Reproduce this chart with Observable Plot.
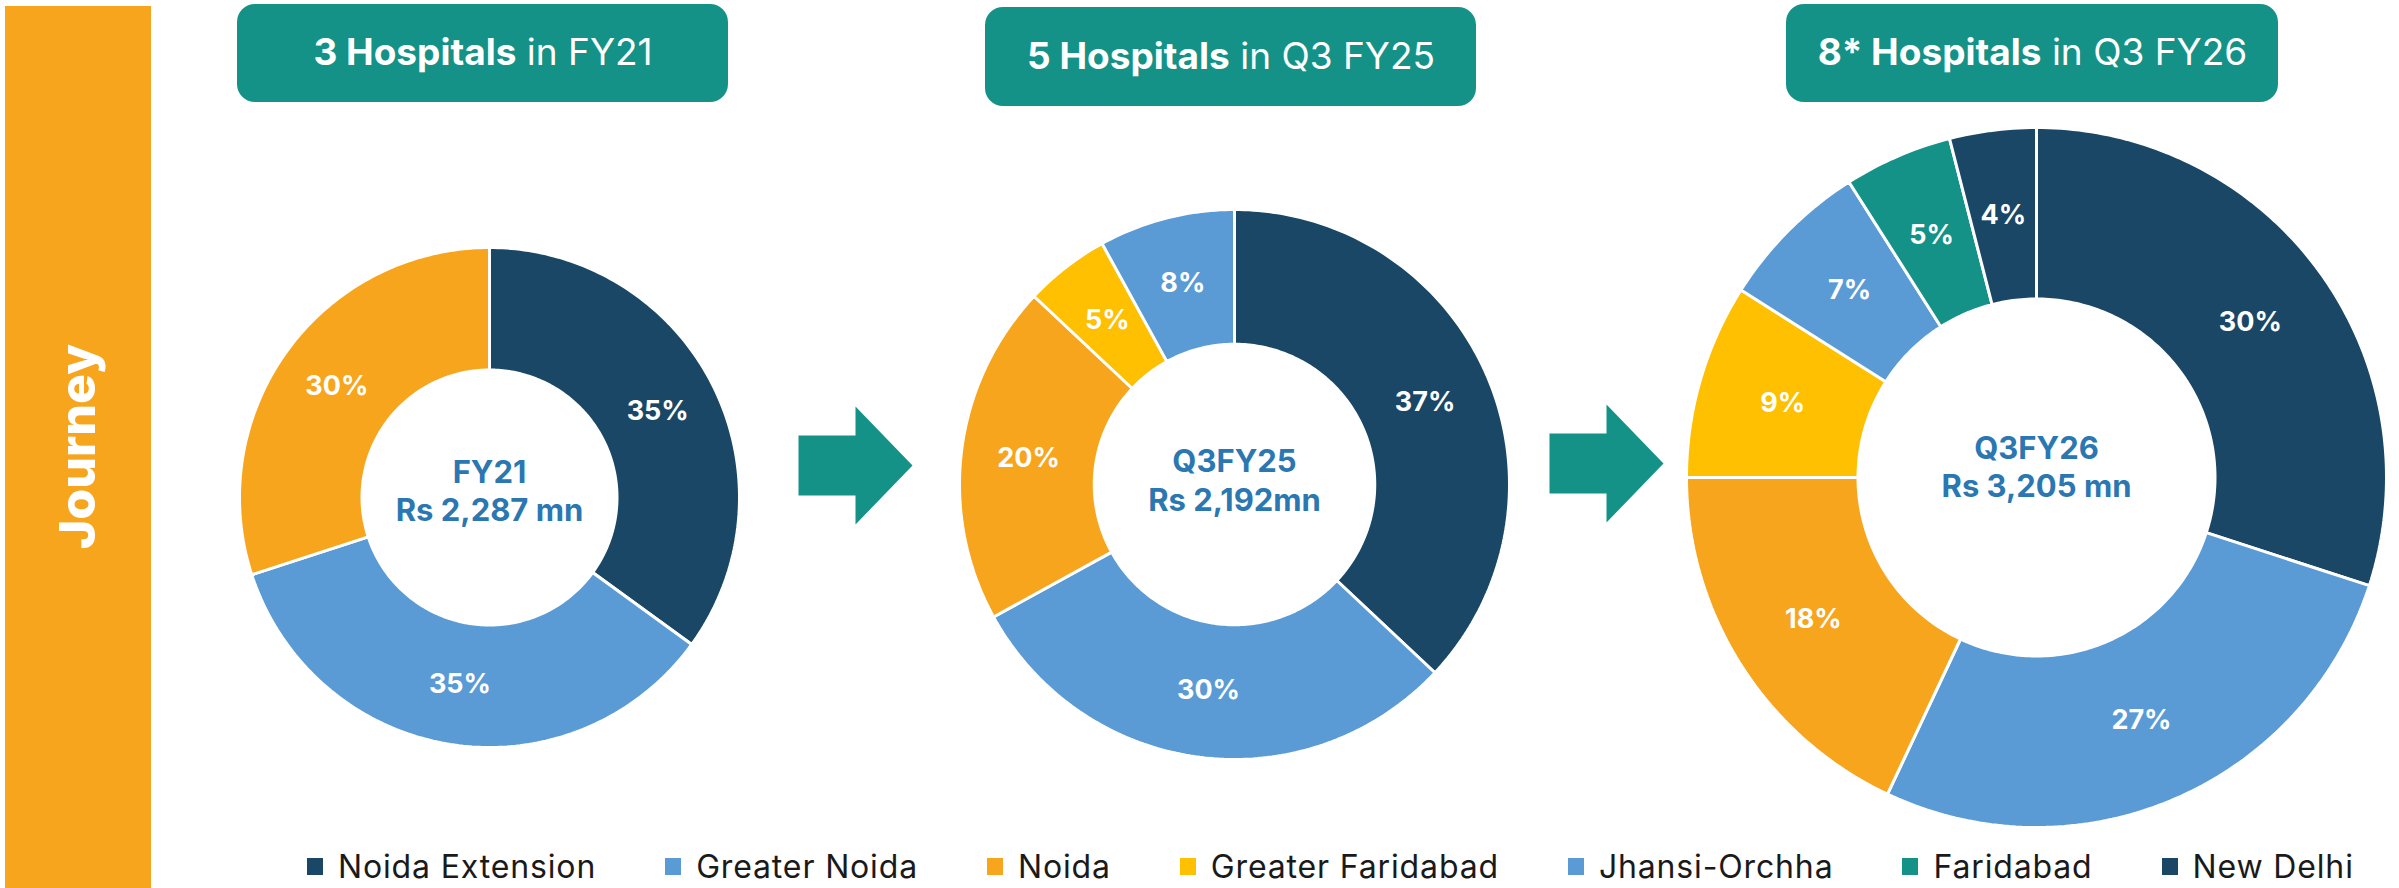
<!DOCTYPE html>
<html>
<head>
<meta charset="utf-8">
<script src="https://cdn.jsdelivr.net/npm/d3@7"></script>
<script src="https://cdn.jsdelivr.net/npm/@observablehq/plot@0.6"></script>
<style>
  body { margin: 0; background: #fff; font-family: Inter, "Open Sans", sans-serif; }
  #wrap { position: relative; width: 2399px; height: 888px; overflow: hidden; background: #fff; }
  #legend { position: relative; height: 43px; display: flex; align-items: center; padding-left: 307px; box-sizing: border-box; }
  #legend .bar { position: absolute; left: 5px; top: 0; width: 146px; height: 43px; background: #f7a51c; }
  #legend .item { display: flex; align-items: center; margin-right: 69px; font-size: 32px; letter-spacing: 0.85px; color: #1a1a1a; white-space: nowrap; }
  #legend .sw { width: 16px; height: 17px; margin-right: 15px; }
</style>
</head>
<body>
<div id="wrap"><div id="chart"></div><div id="legend"><div class="bar"></div></div></div>
<script>
// ---------- data ----------
const regions = ["Noida Extension", "Greater Noida", "Noida", "Greater Faridabad", "Jhansi-Orchha", "Faridabad", "New Delhi"];
const regionColors = ["#1a4766", "#5b9bd5", "#f7a51c", "#fec000", "#5b9bd5", "#149287", "#1a4766"];
const periods = ["FY21", "Q3FY25", "Q3FY26"];
const revenueLabels = ["Rs 2,287 mn", "Rs 2,192mn", "Rs 3,205 mn"];
const headerBold = ["3 Hospitals", "5 Hospitals", "8* Hospitals"];
const headerRest = ["in FY21", "in Q3 FY25", "in Q3 FY26"];
const sharesFY21 = [35, 35, 30];
const sharesQ3FY25 = [37, 30, 20, 5, 8];
const sharesQ3FY26 = [30, 27, 18, 9, 7, 5, 4];
const sideTitle = "Journey";

// ---------- layout ----------
const W = 2399, H = 845, INNER = 0.51;
const TEAL = "#149287", ORANGE = "#f7a51c", CENTER_BLUE = "#2b77b1";
const panels = [
  {cx: 489, cy: 497, R: 250, bx1: 237, bx2: 728, by1: 4, by2: 102, dy: [-24, 14]},
  {cx: 1234, cy: 484, R: 275, bx1: 985, bx2: 1476, by1: 7, by2: 106, dy: [-22, 17]},
  {cx: 2036, cy: 477, R: 350, bx1: 1786, bx2: 2278, by1: 4, by2: 102, dy: [-28, 10]}
];
const arrows = [{x0: 798, cy: 465}, {x0: 1549, cy: 463}];
const arrowShape = {shaft: 57, head: 57, shaftHalf: 30, headHalf: 59};

// ---------- derived geometry ----------
const shareSets = [sharesFY21, sharesQ3FY25, sharesQ3FY26];
const slicePts = [], sliceLabels = [];
shareSets.forEach((shares, p) => {
  const {cx, cy, R} = panels[p];
  const r = R * INNER, total = d3.sum(shares);
  let acc = 0;
  shares.forEach((v, i) => {
    const a0 = acc / total * 2 * Math.PI, a1 = (acc + v) / total * 2 * Math.PI;
    acc += v;
    const n = Math.max(2, Math.ceil((a1 - a0) / (2 * Math.PI) * 360));
    const id = p + "-" + i, color = regionColors[i];
    for (let k = 0; k <= n; k++) { const a = a0 + (a1 - a0) * k / n; slicePts.push({id, color, x: cx + R * Math.sin(a), y: cy - R * Math.cos(a)}); }
    for (let k = n; k >= 0; k--) { const a = a0 + (a1 - a0) * k / n; slicePts.push({id, color, x: cx + r * Math.sin(a), y: cy - r * Math.cos(a)}); }
    const am = (a0 + a1) / 2, rm = (R + r) / 2;
    sliceLabels.push({x: cx + rm * Math.sin(am), y: cy - rm * Math.cos(am), text: v + "%"});
  });
});

const arrowPts = [];
arrows.forEach((a, j) => {
  const s = arrowShape;
  [[0, -s.shaftHalf], [s.shaft, -s.shaftHalf], [s.shaft, -s.headHalf], [s.shaft + s.head, 0],
   [s.shaft, s.headHalf], [s.shaft, s.shaftHalf], [0, s.shaftHalf]]
    .forEach(([dx, dy]) => arrowPts.push({id: j, x: a.x0 + dx, y: a.cy + dy}));
});

const headerTexts = headerBold.map((b, i) => b + " " + headerRest[i]);
const headers = panels.map((p, i) => ({x1: p.bx1, x2: p.bx2, y1: p.by1, y2: p.by2, text: headerTexts[i]}));
const centers = panels.map((p, i) => ({x: p.cx, y1: p.cy + p.dy[0], y2: p.cy + p.dy[1], period: periods[i], revenue: revenueLabels[i]}));

const chart = Plot.plot({
  width: W, height: H, margin: 0,
  x: {domain: [0, W], range: [0, W], axis: null},
  y: {domain: [0, H], range: [0, H], axis: null},
  color: {type: "identity"},
  style: {fontFamily: "Inter, 'Open Sans', sans-serif", background: "white", overflow: "visible"},
  marks: [
    Plot.rect([sideTitle], {x1: 5, x2: 151, y1: 6, y2: H, fill: ORANGE}),
    Plot.text([sideTitle], {x: 78, y: 446, text: d => d, rotate: -90, fill: "white", fontSize: 50, fontWeight: 800}),
    Plot.rect(headers, {x1: "x1", x2: "x2", y1: "y1", y2: "y2", rx: 18, fill: TEAL}),
    Plot.text(headers, {x: d => (d.x1 + d.x2) / 2, y: d => (d.y1 + d.y2) / 2, text: "text", fill: "white", fontSize: 37, fontWeight: 400}),
    Plot.line(arrowPts, {x: "x", y: "y", z: "id", fill: TEAL, stroke: "none", curve: "linear-closed"}),
    Plot.line(slicePts, {x: "x", y: "y", z: "id", fill: "color", stroke: "white", strokeWidth: 3, curve: "linear-closed", strokeLinejoin: "miter"}),
    Plot.text(sliceLabels, {x: "x", y: "y", text: "text", fill: "white", fontSize: 27, fontWeight: 700}),
    Plot.text(centers, {x: "x", y: "y1", text: "period", fill: CENTER_BLUE, fontSize: 31, fontWeight: 700}),
    Plot.text(centers, {x: "x", y: "y2", text: "revenue", fill: CENTER_BLUE, fontSize: 31, fontWeight: 700})
  ]
});
document.getElementById("chart").appendChild(chart);

// mixed-weight header text
d3.select(chart).selectAll("text").each(function() {
  const i = headerTexts.indexOf(this.textContent);
  if (i < 0) return;
  const t = d3.select(this);
  t.text(null);
  t.append("tspan").attr("font-weight", 700).text(headerBold[i]);
  t.append("tspan").attr("font-weight", 400).text(" " + headerRest[i]);
});

// legend
const legend = d3.select("#legend");
regions.forEach((name, i) => {
  const item = legend.append("div").attr("class", "item");
  item.append("div").attr("class", "sw").style("background", regionColors[i]);
  item.append("span").text(name);
});
</script>
</body>
</html>
